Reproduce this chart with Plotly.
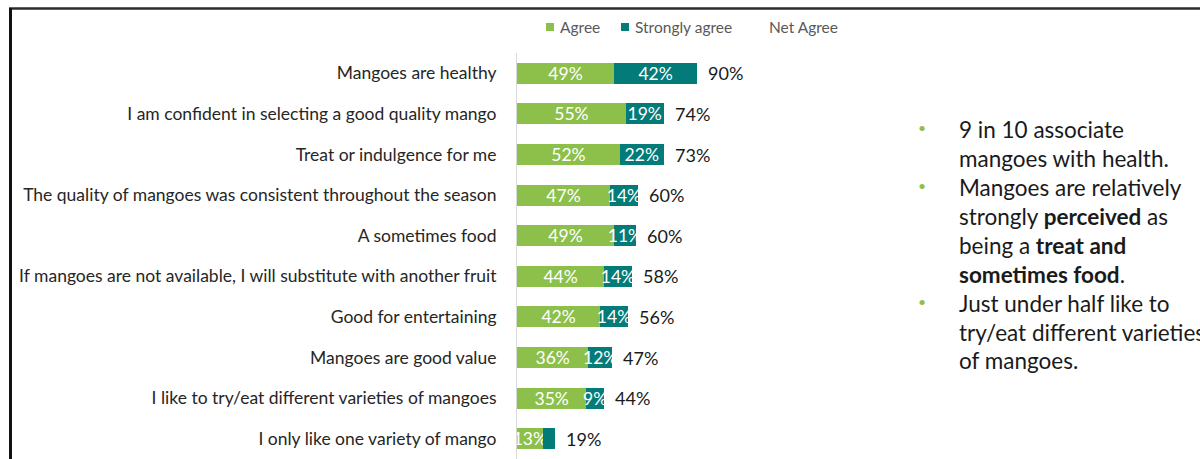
import plotly.graph_objects as go

# Survey statements and the share of respondents agreeing (%)
statements = [
    "Mangoes are healthy",
    "I am confident in selecting a good quality mango",
    "Treat or indulgence for me",
    "The quality of mangoes was consistent throughout the season",
    "A sometimes food",
    "If mangoes are not available, I will substitute with another fruit",
    "Good for entertaining",
    "Mangoes are good value",
    "I like to try/eat different varieties of mangoes",
    "I only like one variety of mango",
]
agree = [49, 55, 52, 47, 49, 44, 42, 36, 35, 13]
strongly_agree = [42, 19, 22, 14, 11, 14, 14, 12, 9, 6]
net_agree = [90, 74, 73, 60, 60, 58, 56, 47, 44, 19]
# Segments too thin to carry a readable label are left unlabelled
min_labelled = 8

GREEN = "#8DC04B"
TEAL = "#037B79"
FONT = "Lato"

W, H = 1200, 459
ML, MR, MT, MB = 517, 320, 53, 0
PLOT_W = W - ML - MR
PLOT_H = H - MT - MB
PX_PER_PCT = 1.98


def px_x(px):
    return (px - ML) / PLOT_W


def px_y(py):
    return (H - MB - py) / PLOT_H


fig = go.Figure()
for name, vals, color in [("Agree", agree, GREEN), ("Strongly agree", strongly_agree, TEAL)]:
    labels = [f"{v}%" if (v >= min_labelled or name == "Agree") else "" for v in vals]
    fig.add_trace(go.Bar(
        y=statements, x=vals, orientation="h", name=name,
        marker=dict(color=color, line=dict(width=0)),
        text=labels, textposition="inside", textangle=0,
        insidetextanchor="middle", constraintext="none",
        insidetextfont=dict(family=FONT, size=17.5, color="white"),
        showlegend=False,
    ))

annotations = []
# Net agree labels just past the end of each stacked bar
for s, a, sa, n in zip(statements, agree, strongly_agree, net_agree):
    annotations.append(dict(
        x=a + sa, y=s, xref="x", yref="y", text=f"{n}%",
        showarrow=False, xanchor="left", xshift=9,
        font=dict(family=FONT, size=18, color="#1a1a1a"),
    ))

# Legend row
legend_items = [("Agree", 558, GREEN), ("Strongly agree", 633, TEAL), ("Net Agree", 767, None)]
shapes = []
for label, left, color in legend_items:
    annotations.append(dict(
        x=px_x(left), y=px_y(27), xref="paper", yref="paper", text=label,
        showarrow=False, xanchor="left", yanchor="middle",
        font=dict(family=FONT, size=15.5, color="#595959"),
    ))
    if color:
        shapes.append(dict(
            type="rect", xref="paper", yref="paper",
            x0=px_x(left - 12), x1=px_x(left - 4), y0=px_y(31), y1=px_y(23),
            fillcolor=color, line=dict(width=0),
        ))

# Commentary bullets
lines = [
    (True, "9 in 10 associate"),
    (False, "mangoes with health."),
    (True, "Mangoes are relatively"),
    (False, "strongly <b>perceived</b> as"),
    (False, "being a <b>treat and</b>"),
    (False, "<b>sometimes food</b>."),
    (True, "Just under half like to"),
    (False, "try/eat different varieties"),
    (False, "of mangoes."),
]
line_y = [129, 158, 187, 216, 245, 274, 303, 332, 360]
for (bullet, txt), ly in zip(lines, line_y):
    annotations.append(dict(
        x=px_x(957), y=px_y(ly), xref="paper", yref="paper", text=txt,
        showarrow=False, xanchor="left", yanchor="middle",
        font=dict(family=FONT, size=22.5, color="#1a1a1a"),
    ))
    if bullet:
        annotations.append(dict(
            x=px_x(922), y=px_y(ly - 2), xref="paper", yref="paper", text="•",
            showarrow=False, xanchor="center", yanchor="middle",
            font=dict(family=FONT, size=14, color=GREEN),
        ))

# Slide frame
shapes.append(dict(type="line", xref="paper", yref="paper",
                   x0=px_x(9), x1=px_x(1205), y0=px_y(8.5), y1=px_y(8.5),
                   line=dict(color="#2b2b2b", width=2.5)))
shapes.append(dict(type="line", xref="paper", yref="paper",
                   x0=px_x(10.5), x1=px_x(10.5), y0=px_y(8), y1=px_y(465),
                   line=dict(color="#111111", width=3)))

fig.update_layout(
    width=W, height=H,
    margin=dict(l=ML, r=MR, t=MT, b=MB, pad=0),
    barmode="stack", bargap=0.48,
    plot_bgcolor="white", paper_bgcolor="white",
    font=dict(family=FONT),
    annotations=annotations, shapes=shapes,
    xaxis=dict(range=[0, PLOT_W / PX_PER_PCT], visible=False, fixedrange=True),
    yaxis=dict(
        autorange="reversed", showgrid=False, zeroline=False,
        showline=True, linecolor="#d9d9d9", linewidth=1,
        ticks="", ticklabelstandoff=16,
        tickfont=dict(family=FONT, size=17.5, color="#262626"),
    ),
)

fig.write_html("out.html")
